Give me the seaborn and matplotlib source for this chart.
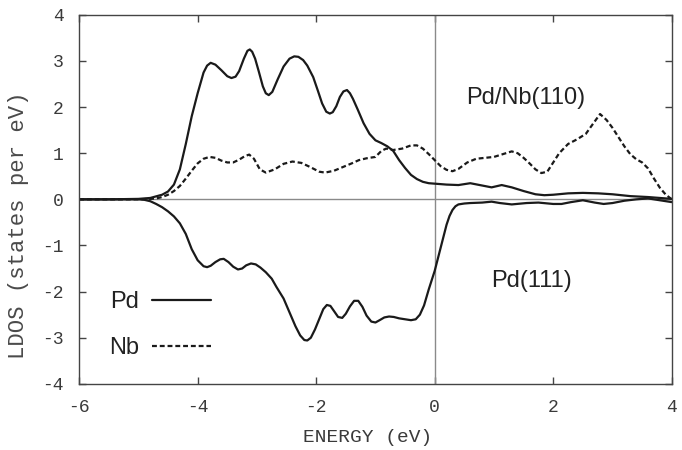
import numpy as np
import pandas as pd
import matplotlib
matplotlib.use("Agg")
import matplotlib.pyplot as plt
from matplotlib.lines import Line2D
import seaborn as sns

# Pd LDOS on Pd/Nb(110) (solid, upper half)
e_pd_nb = [-6.0, -5.5, -5.0, -4.8, -4.6, -4.5, -4.4, -4.3, -4.2, -4.1, -4.0, -3.9, -3.84, -3.78,
           -3.7, -3.6, -3.5, -3.43, -3.36, -3.3, -3.22, -3.16, -3.12, -3.08, -3.03, -2.97, -2.9,
           -2.85, -2.8, -2.74, -2.65, -2.55, -2.45, -2.37, -2.3, -2.22, -2.15, -2.05, -1.97,
           -1.9, -1.83, -1.77, -1.72, -1.66, -1.6, -1.54, -1.48, -1.43, -1.38, -1.3, -1.2,
           -1.1, -1.0, -0.9, -0.8, -0.7, -0.6, -0.5, -0.4, -0.3, -0.2, -0.1, 0.0, 0.2, 0.4,
           0.6, 0.8, 0.96, 1.13, 1.3, 1.5, 1.7, 1.85, 2.0, 2.25, 2.5, 2.76, 3.0, 3.3, 3.6,
           3.8, 4.0]
ldos_pd_nb = [0.0, 0.0, 0.01, 0.03, 0.1, 0.17, 0.32, 0.65, 1.2, 1.8, 2.3, 2.75, 2.9, 2.96,
              2.92, 2.8, 2.67, 2.63, 2.66, 2.78, 3.05, 3.22, 3.25, 3.2, 3.05, 2.78, 2.45,
              2.3, 2.26, 2.33, 2.6, 2.88, 3.05, 3.1, 3.09, 3.02, 2.9, 2.65, 2.35,
              2.08, 1.9, 1.86, 1.89, 2.02, 2.22, 2.34, 2.37, 2.3, 2.18, 1.95, 1.65,
              1.42, 1.28, 1.22, 1.15, 1.05, 0.85, 0.68, 0.53, 0.44, 0.38, 0.35, 0.34, 0.32, 0.31,
              0.35, 0.3, 0.26, 0.31, 0.26, 0.18, 0.11, 0.09, 0.1, 0.13, 0.14, 0.13, 0.11, 0.07, 0.05,
              0.03, 0.01]

# Nb LDOS on Pd/Nb(110) (dashed)
e_nb = [-6.0, -5.0, -4.8, -4.7, -4.6, -4.5, -4.4, -4.3, -4.2, -4.1, -4.0, -3.9, -3.8, -3.7,
        -3.6, -3.5, -3.4, -3.3, -3.2, -3.13, -3.05, -2.95, -2.85, -2.7, -2.55, -2.4, -2.25,
        -2.1, -1.95, -1.85, -1.7, -1.55, -1.4, -1.28, -1.15, -1.0, -0.9, -0.82, -0.7, -0.55,
        -0.4, -0.3, -0.2, -0.1, 0.0, 0.1, 0.2, 0.3, 0.4, 0.55, 0.7, 0.85, 1.0, 1.15, 1.3,
        1.4, 1.5, 1.6, 1.7, 1.8, 1.9, 2.0, 2.1, 2.25, 2.4, 2.55, 2.65, 2.79, 2.9, 3.0, 3.1,
        3.2, 3.3, 3.4, 3.5, 3.6, 3.7, 3.8, 3.9, 4.0]
ldos_nb = [0.0, 0.0, 0.01, 0.02, 0.05, 0.1, 0.18, 0.29, 0.45, 0.62, 0.78, 0.88, 0.92, 0.9,
           0.84, 0.8, 0.8, 0.86, 0.94, 0.97, 0.88, 0.65, 0.58, 0.65, 0.77, 0.82, 0.79,
           0.7, 0.6, 0.58, 0.62, 0.7, 0.78, 0.85, 0.89, 0.92, 1.05, 1.1, 1.07, 1.1,
           1.17, 1.17, 1.1, 0.98, 0.85, 0.72, 0.64, 0.61, 0.66, 0.8, 0.88, 0.9, 0.92, 0.98, 1.04,
           1.0, 0.9, 0.78, 0.65, 0.57, 0.6, 0.8, 1.0, 1.2, 1.3, 1.42, 1.6, 1.85, 1.72, 1.55, 1.35,
           1.15, 0.98, 0.87, 0.8, 0.67, 0.45, 0.25, 0.1, 0.0]

# Pd(111) LDOS, drawn mirrored (negative)
e_pd111 = [-6.0, -5.0, -4.9, -4.8, -4.7, -4.6, -4.5, -4.4, -4.3, -4.2, -4.1, -4.0, -3.9, -3.84,
           -3.78, -3.7, -3.62, -3.56, -3.48, -3.4, -3.32, -3.25, -3.18, -3.1, -3.02, -2.94,
           -2.85, -2.75, -2.67, -2.55, -2.45, -2.35, -2.27, -2.2, -2.15, -2.09, -2.02, -1.95,
           -1.88, -1.82, -1.76, -1.7, -1.63, -1.56, -1.5, -1.43, -1.36, -1.29, -1.22, -1.15,
           -1.07, -1.0, -0.93, -0.85, -0.77, -0.69, -0.6, -0.5, -0.4, -0.32, -0.25, -0.18,
           -0.1, -0.05, 0.0, 0.05, 0.1, 0.15, 0.2, 0.25, 0.3, 0.35, 0.4, 0.5, 0.6, 0.8, 0.96,
           1.1, 1.3, 1.55, 1.75, 2.0, 2.14, 2.3, 2.5, 2.7, 2.85, 3.0, 3.2, 3.4, 3.6, 3.8, 4.0]
ldos_pd111 = [0.0, 0.0, -0.01, -0.04, -0.1, -0.17, -0.26, -0.37, -0.52, -0.75, -1.08, -1.32,
              -1.45, -1.47, -1.44, -1.36, -1.3, -1.29, -1.36, -1.46, -1.52, -1.5, -1.43, -1.39,
              -1.41, -1.48, -1.58, -1.72, -1.9, -2.15, -2.45, -2.75, -2.95, -3.05, -3.06, -3.0,
              -2.82, -2.6, -2.38, -2.29, -2.31, -2.42, -2.55, -2.57, -2.48, -2.32, -2.2, -2.2,
              -2.33, -2.52, -2.65, -2.67, -2.62, -2.56, -2.54, -2.55, -2.58, -2.6, -2.62, -2.6,
              -2.5, -2.3, -1.95, -1.75, -1.55, -1.3, -1.05, -0.8, -0.55, -0.36, -0.23, -0.15,
              -0.11, -0.09, -0.08, -0.07, -0.05, -0.08, -0.11, -0.08, -0.07, -0.1, -0.1, -0.06,
              -0.02, -0.07, -0.1, -0.08, -0.03, 0.0, 0.02, -0.02, -0.06]

x_ticks = [-6, -4, -2, 0, 2, 4]
y_ticks = [-4, -3, -2, -1, 0, 1, 2, 3, 4]

df_pd_nb = pd.DataFrame({"E": e_pd_nb, "LDOS": ldos_pd_nb})
df_nb = pd.DataFrame({"E": e_nb, "LDOS": ldos_nb})
df_pd111 = pd.DataFrame({"E": e_pd111, "LDOS": ldos_pd111})

sns.set_theme(style="ticks")
plt.rcParams["font.family"] = ["Liberation Mono", "DejaVu Sans"]

fig = plt.figure(figsize=(6.82, 4.5), dpi=100)
ax = fig.add_axes([0.116, 0.147, 0.869, 0.820])

ax.axhline(0, color="#8a8a8a", lw=1.0, zorder=1)
ax.axvline(0, color="#8a8a8a", lw=1.0, zorder=1)

dash = (0, (2.2, 1.3))
sns.lineplot(data=df_pd_nb, x="E", y="LDOS", ax=ax, color="#1a1a1a", lw=1.6)
sns.lineplot(data=df_nb, x="E", y="LDOS", ax=ax, color="#1a1a1a", lw=1.6, linestyle=dash)
sns.lineplot(data=df_pd111, x="E", y="LDOS", ax=ax, color="#1a1a1a", lw=1.6)

ax.set_xlim(-6, 4)
ax.set_ylim(-4, 4)
ax.set_xticks(x_ticks)
ax.set_yticks(y_ticks)
ax.set_xticklabels([str(t) for t in x_ticks])
ax.set_yticklabels([str(t) for t in y_ticks])
ax.tick_params(direction="in", top=True, right=True, length=5, width=1,
               color="#444444", labelsize=13, labelcolor="#3a3a3a")
ax.tick_params(axis="x", pad=11)
ax.tick_params(axis="y", pad=11)
for s in ax.spines.values():
    s.set_color("#444444")
    s.set_linewidth(1.0)

ax.set_xlabel("ENERGY (eV)", fontsize=14, color="#3a3a3a", va="center")
ax.set_ylabel("LDOS (states per eV)", fontsize=16, color="#4a4a4a", va="center")
ax.xaxis.set_label_coords(0.486, -0.146)
ax.yaxis.set_label_coords(-0.103, 0.43)

sans = ["Liberation Sans", "DejaVu Sans"]
ax.text(1.53, 2.2, "Pd/Nb(110)", fontsize=17, family=sans, color="#222222",
        ha="center", va="center")
ax.text(1.63, -1.78, "Pd(111)", fontsize=17, family=sans, color="#222222",
        ha="center", va="center")

handles = [Line2D([], [], color="#1a1a1a", lw=1.6),
           Line2D([], [], color="#1a1a1a", lw=1.6, linestyle=dash)]
leg = ax.legend(handles, ["Pd", "Nb"], loc="upper left", bbox_to_anchor=(0.051, 0.252),
                frameon=False, markerfirst=False, handlelength=2.5, handletextpad=0.55,
                labelspacing=1.02, borderpad=0, borderaxespad=0,
                prop={"family": sans, "size": 17})
for t in leg.get_texts():
    t.set_color("#222222")

fig.savefig("out.png", dpi=100)
